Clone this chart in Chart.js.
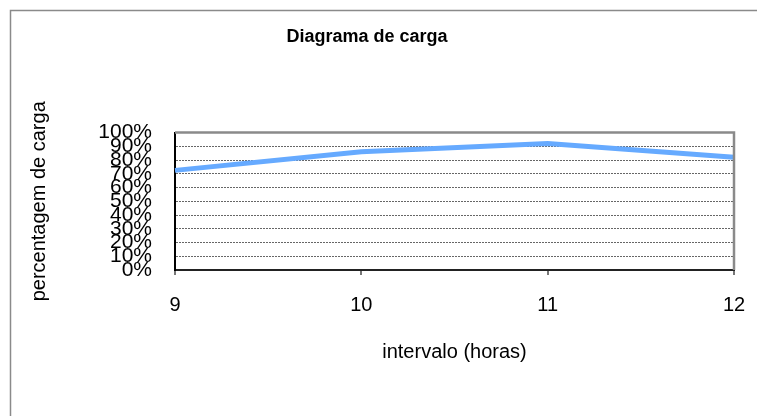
<!DOCTYPE html>
<html>
<head>
<meta charset="utf-8">
<script src="https://cdn.jsdelivr.net/npm/chart.js@4"></script>
<style>
  html, body { margin: 0; padding: 0; background: #fff; overflow: hidden; }
  #wrap { width: 757px; height: 416px; }
</style>
</head>
<body>
<div id="wrap"><canvas id="chart" width="757" height="416"></canvas></div>
<script>
// Data
const horas = ['9', '10', '11', '12'];
const carga = [72.5, 86, 92, 82];
const yMin = 0, yMax = 100, yStep = 10;

const FONT = "'Liberation Sans', Arial, sans-serif";

// outer frame + plot frame
const framePlugin = {
  id: 'frames',
  beforeDraw(chart) {
    const ctx = chart.ctx;
    ctx.save();
    ctx.strokeStyle = '#8a8a8a';
    ctx.lineWidth = 1.5;
    ctx.beginPath();
    ctx.moveTo(10.5, 416);
    ctx.lineTo(10.5, 10.5);
    ctx.lineTo(757, 10.5);
    ctx.stroke();
    ctx.restore();
  },
  afterDatasetsDraw(chart) {
    const { ctx, chartArea: a } = chart;
    ctx.save();
    ctx.strokeStyle = '#8a8a8a';
    ctx.lineWidth = 2.5;
    ctx.beginPath();
    ctx.moveTo(a.left, a.top);
    ctx.lineTo(a.right, a.top);
    ctx.lineTo(a.right, a.bottom);
    ctx.stroke();
    ctx.restore();
  }
};

new Chart(document.getElementById('chart'), {
  type: 'line',
  data: {
    labels: horas,
    datasets: [{
      data: carga,
      borderColor: '#66aaff',
      borderWidth: 5,
      pointRadius: 0,
      tension: 0,
      fill: false,
      clip: false
    }]
  },
  options: {
    responsive: false,
    animation: false,
    layout: { padding: { left: 0, right: 23, top: 0, bottom: 0 } },
    plugins: {
      legend: { display: false },
      tooltip: { enabled: false },
      title: {
        display: true,
        text: 'Diagrama de carga',
        color: '#000',
        font: { family: FONT, size: 18, weight: 'bold' },
        padding: { top: 26, bottom: 85 }
      }
    },
    scales: {
      x: {
        type: 'category',
        offset: false,
        grid: { drawOnChartArea: false, drawTicks: true, tickLength: 5, color: '#777', lineWidth: 2 },
        border: { display: true, color: '#222', width: 2 },
        ticks: { color: '#000', font: { family: FONT, size: 20 }, padding: 18, maxRotation: 0 },
        title: {
          display: true,
          text: 'intervalo (horas)',
          color: '#000',
          font: { family: FONT, size: 20 },
          padding: { top: 0, bottom: 52 }
        },
        afterFit(scale) {
          scale.height = 146;
          scale.paddingLeft = 0;
          scale.paddingRight = 10;
        }
      },
      y: {
        min: yMin,
        max: yMax,
        grid: { drawTicks: false, color: '#666', lineWidth: 1 },
        border: { display: true, color: '#000', width: 2, dash: [2, 1] },
        ticks: {
          stepSize: yStep,
          autoSkip: false,
          color: '#000',
          padding: 23,
          font: { family: FONT, size: 21 },
          callback: v => v + '%'
        },
        title: {
          display: true,
          text: 'percentagem de carga',
          color: '#000',
          font: { family: FONT, size: 20 },
          padding: { top: 27, bottom: 0 }
        },
        afterFit(scale) { scale.width = 175; }
      }
    }
  },
  plugins: [framePlugin]
});
</script>
</body>
</html>
